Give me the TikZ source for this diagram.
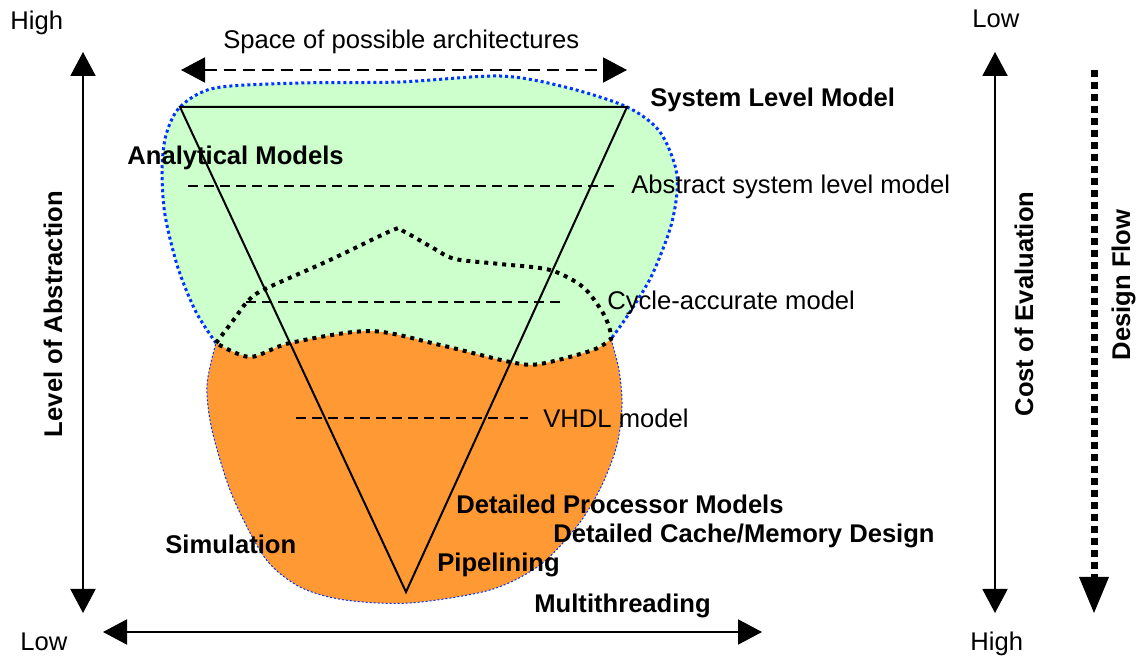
\documentclass[tikz,border=0pt]{standalone}
\usepackage{fontspec}
\setmainfont{Liberation Sans}
\usetikzlibrary{arrows.meta}
\definecolor{blobgreen}{RGB}{204,255,204}
\definecolor{bloborange}{RGB}{255,153,51}
\definecolor{dotblue}{RGB}{0,51,255}

\begin{document}
\begin{tikzpicture}[x=0.5pt,y=-0.5pt]
    \tikzset{%
      txt/.style={font=\fontsize{12.8}{15}\selectfont, inner sep=0pt,
        anchor=base west},
      btxt/.style={txt, font=\fontsize{12.8}{15}\selectfont\bfseries},
      vtxt/.style={font=\fontsize{12.8}{15}\selectfont\bfseries,
        inner sep=0pt, anchor=base, rotate=90},
      scalearr/.style={line width=1pt,
        {Triangle[width=12.5pt,length=12pt]}-{Triangle[width=12.5pt,length=12pt]}},
      lvl/.style={line width=1pt, dash pattern=on 5pt off 3pt},
    }
    \useasboundingbox (0,0) rectangle (1136,657);

    \fill[blobgreen] plot[smooth] coordinates {(216,343) (196,312) (178,268)
      (165,215) (162,170) (166,135) (180,107) (215,88) (300,83) (400,82)
      (500,76) (565,87) (627,107) (660,132) (677,175) (672,222) (652,275)
      (628,315) (611,339)}
      -- plot[smooth] coordinates {(611,339) (593,350) (540,364) (510,362)
      (440,345) (370,331) (290,343) (250,357) (216,343)} -- cycle;
    \fill[bloborange] plot[smooth] coordinates {(216,343) (250,357) (290,343)
      (370,331) (440,345) (510,362) (540,364) (593,350) (611,339)}
      -- plot[smooth] coordinates {(611,339) (619,370) (622,405) (617,445)
      (601,487) (578,525) (540,565) (490,590) (410,603) (345,600) (300,587)
      (265,558) (232,495) (212,430) (207,385) (216,343)} -- cycle;

    \draw[dotblue, line width=1.5pt, dash pattern=on 1.5pt off 1.5pt]
      plot[smooth] coordinates {(216,343) (196,312) (178,268)
      (165,215) (162,170) (166,135) (180,107) (215,88) (300,83) (400,82)
      (500,76) (565,87) (627,107) (660,132) (677,175) (672,222) (652,275)
      (628,315) (611,339)};
    \draw[dotblue, line width=0.5pt, dash pattern=on 1pt off 1pt]
      plot[smooth] coordinates {(611,339) (619,370) (622,405) (617,445)
      (601,487) (578,525) (540,565) (490,590) (410,603) (345,600) (300,587)
      (265,558) (232,495) (212,430) (207,385) (216,343)};
    \draw[line width=2pt, dash pattern=on 2pt off 2.5pt]
      plot[smooth] coordinates {(216,343) (235,318) (247,302) (263,290)
      (330,260) (393,230) (403,231) (433,248) (455,259) (500,264) (550,270)
      (583,287) (603,313) (610,330) (611,339)}
      -- plot[smooth] coordinates {(611,339) (593,350) (540,364) (510,362)
      (440,345) (370,331) (290,343) (250,357) (216,343)};

    \coordinate (V1) at (180,107);
    \coordinate (V2) at (627,107);
    \coordinate (V3) at (406,592);
    \draw[line width=1pt] (V1) -- (V2) -- (V3) -- cycle;

    \coordinate (L1a) at (188,186);
    \coordinate (L1b) at (617,186);
    \draw[lvl] (L1a) -- (L1b);
    \coordinate (L2a) at (246,302);
    \coordinate (L2b) at (564,302);
    \draw[lvl] (L2a) -- (L2b);
    \coordinate (L3a) at (296,418);
    \coordinate (L3b) at (528,418);
    \draw[lvl] (L3a) -- (L3b);

    \coordinate (LAt) at (83,52);
    \coordinate (LAb) at (83,613);
    \draw[scalearr] (LAt) -- (LAb);
    \coordinate (BAl) at (103,632);
    \coordinate (BAr) at (762,632);
    \draw[scalearr] (BAl) -- (BAr);
    \coordinate (SAl) at (181,70);
    \coordinate (SAr) at (627,70);
    \draw[scalearr, dash pattern=on 6pt off 3.5pt] (SAl) -- (SAr);
    \coordinate (CAt) at (995,52);
    \coordinate (CAb) at (995,613);
    \draw[scalearr] (CAt) -- (CAb);
    \coordinate (DFt) at (1094,70);
    \coordinate (DFb) at (1094,613);
    \draw[line width=3.5pt, dash pattern=on 3.5pt off 2.5pt,
      -{Triangle[width=15pt,length=18pt,line width=0pt]}] (DFt) -- (DFb);

    \node[txt] (hiL) at (10,30) {High};
    \node[txt] (loL) at (20,650) {Low};
    \node[txt] (loR) at (972,28) {Low};
    \node[txt] (hiR) at (970,650) {High};
    \node[txt] (space) at (223,49) {Space of possible architectures};
    \node[btxt] (sys) at (650,107) {System Level Model};
    \node[btxt] (anal) at (127,165) {Analytical Models};
    \node[txt] (abs) at (631,194) {Abstract system level model};
    \node[txt] (cyc) at (607,310) {Cycle-accurate model};
    \node[txt] (vhdl) at (543,428) {VHDL model};
    \node[btxt] (proc) at (456,514) {Detailed Processor Models};
    \node[btxt] (cache) at (553,543) {Detailed Cache/Memory Design};
    \node[btxt] (sim) at (165,553) {Simulation};
    \node[btxt] (pipe) at (437,572) {Pipelining};
    \node[btxt] (multi) at (534,612) {Multithreading};
    \node[vtxt] (abst) at (62,314) {Level of Abstraction};
    \node[vtxt] (cost) at (1033,304) {Cost of Evaluation};
    \node[vtxt] (flow) at (1130,285) {Design Flow};
\end{tikzpicture}
\end{document}
